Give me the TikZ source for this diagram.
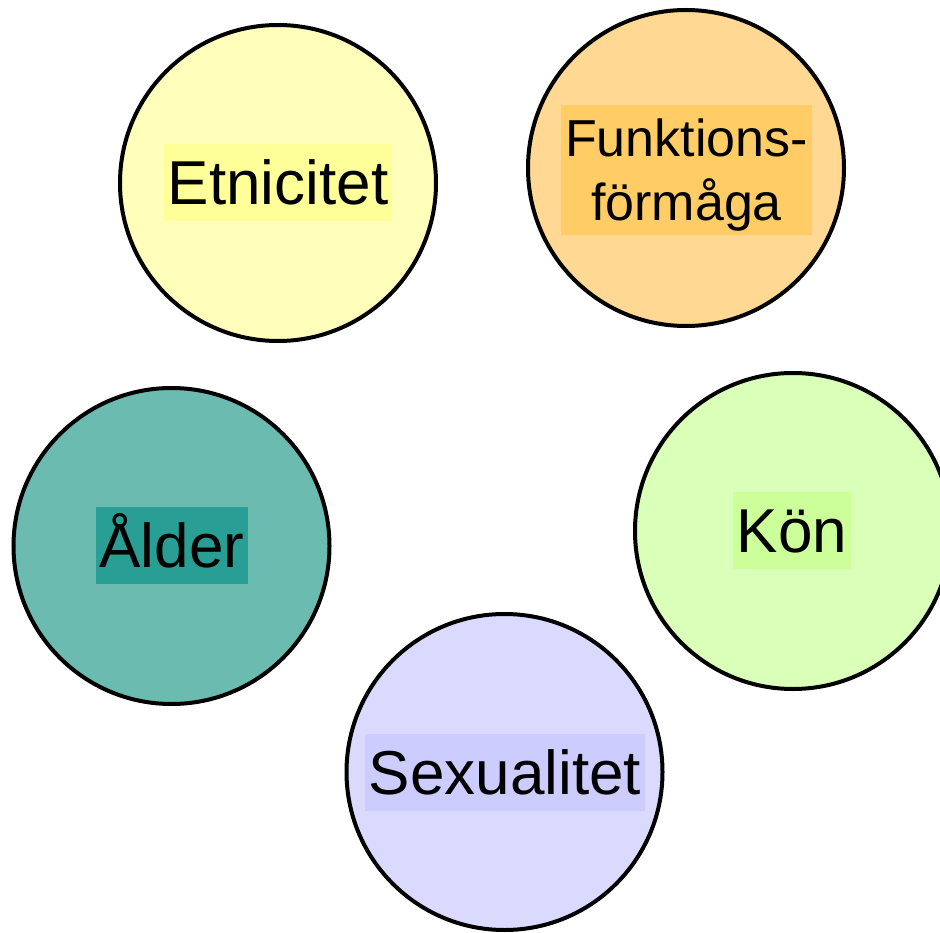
\documentclass[tikz,border=0pt]{standalone}
\usepackage{fontspec}
\setmainfont{Liberation Sans}
\definecolor{etnC}{HTML}{FFFFBB}
\definecolor{etnB}{HTML}{FFFF99}
\definecolor{funC}{HTML}{FFD994}
\definecolor{funB}{HTML}{FFCC66}
\definecolor{konC}{HTML}{DAFFB8}
\definecolor{konB}{HTML}{CCFF99}
\definecolor{aldC}{HTML}{6BBBB1}
\definecolor{aldB}{HTML}{289E94}
\definecolor{sexC}{HTML}{DADAFF}
\definecolor{sexB}{HTML}{CCCCFF}
\tikzset{
  bigcircle/.style={circle, draw=black, line width=4pt, minimum size=316pt, inner sep=0pt},
  lbl/.style={inner xsep=4pt, inner ysep=4pt, font=\fontsize{62}{72}\selectfont, text height=56pt, text depth=13pt},
  lbltwo/.style={inner xsep=4pt, inner ysep=4pt, font=\fontsize{52}{64}\selectfont, align=center}
}
\begin{document}
\begin{tikzpicture}[x=1pt,y=-1pt]
\useasboundingbox (0,0) rectangle (940,933);
\node[bigcircle, fill=etnC] (etn) at (278,183) {};
\node[bigcircle, fill=funC] (fun) at (686,168) {};
\node[bigcircle, fill=konC] (kon) at (793,531) {};
\node[bigcircle, fill=aldC] (ald) at (171.5,546) {};
\node[bigcircle, fill=sexC] (sex) at (504.5,772) {};
\node[lbl, fill=etnB] (etnl) at (etn.center) {Etnicitet};
\node[lbltwo, fill=funB] (funl) at (686.5,170) {\rule{0pt}{48pt}Funktions-\\förmåga\rule[-10pt]{0pt}{10pt}};
\node[lbl, fill=konB] (konl) at (792,530.5) {Kön};
\node[lbl, fill=aldB] (aldl) at (172,545.5) {Ålder};
\node[lbl, fill=sexB] (sexl) at (505,772.5) {Sexualitet};
\end{tikzpicture}
\end{document}
